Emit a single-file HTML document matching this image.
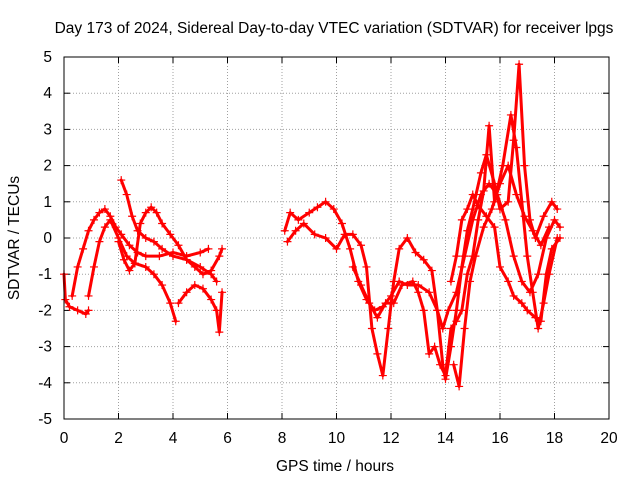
<!DOCTYPE html>
<html><head><meta charset="utf-8"><style>
body{margin:0;background:#fff;width:640px;height:480px;overflow:hidden}
svg text{font-family:"Liberation Sans",sans-serif;font-size:15.5px;fill:#000}
</style></head><body>
<svg id="chart" width="640" height="480" viewBox="0 0 640 480">
<text x="334" y="33" text-anchor="middle">Day 173 of 2024, Sidereal Day-to-day VTEC variation (SDTVAR) for receiver lpgs</text>
<g id="grid"></g>
<g id="axes"></g>
<g id="series"></g>
<rect x="64" y="57" width="545" height="362" fill="none" stroke="#000" stroke-width="1"/>
<text x="335" y="471" text-anchor="middle">GPS time / hours</text>
<text transform="translate(19,238) rotate(-90)" text-anchor="middle">SDTVAR / TECUs</text>
</svg>
<script>
const xTicks=[0,2,4,6,8,10,12,14,16,18,20];
const yTicks=[-5,-4,-3,-2,-1,0,1,2,3,4,5];
const trackA1=[[0,-1.0],[0.05,-1.7],[0.2,-1.9],[0.5,-2.0],[0.8,-2.1],[0.9,-2.0]];
const trackA2=[[0.3,-1.6],[0.5,-0.8],[0.7,-0.3],[0.9,0.2],[1.1,0.5],[1.3,0.7],[1.5,0.8],[1.7,0.6],[1.9,0.3],[2.1,0.1],[2.4,-0.2],[2.7,-0.4],[3.0,-0.5],[3.5,-0.5],[4.0,-0.4],[4.5,-0.5],[5.0,-0.4],[5.3,-0.3]];
const trackA3=[[0.9,-1.6],[1.1,-0.8],[1.3,-0.1],[1.5,0.3],[1.7,0.5],[2.0,0.0],[2.3,-0.5],[2.6,-0.7],[3.0,-0.8],[3.3,-1.0],[3.6,-1.3],[3.9,-1.8],[4.1,-2.3]];
const trackA4=[[2.1,1.6],[2.3,1.2],[2.5,0.6],[2.7,0.2],[3.0,0.0],[3.3,-0.1],[3.6,-0.3],[4.0,-0.5],[4.5,-0.6],[5.0,-0.8],[5.4,-1.0],[5.6,-1.2]];
const trackA5=[[2.0,-0.1],[2.2,-0.6],[2.4,-0.9],[2.6,-0.7],[2.8,0.4],[3.0,0.7],[3.2,0.85],[3.4,0.7],[3.6,0.4],[3.9,0.1],[4.2,-0.2],[4.5,-0.6],[4.8,-0.8],[5.1,-1.0],[5.4,-0.9],[5.7,-0.5],[5.8,-0.3]];
const trackA6=[[4.2,-1.8],[4.5,-1.5],[4.8,-1.3],[5.1,-1.4],[5.4,-1.7],[5.6,-2.0],[5.7,-2.6],[5.8,-1.5]];
const trackB1=[[8.1,0.2],[8.3,0.7],[8.6,0.5],[9.0,0.7],[9.3,0.85],[9.6,1.0],[9.9,0.8],[10.2,0.4],[10.5,-0.3],[10.8,-1.2],[11.1,-1.7],[11.4,-2.0],[11.7,-1.9],[12.0,-1.6],[12.3,-1.2],[12.6,-1.3],[13.0,-1.3],[13.4,-1.5],[13.7,-2.0],[13.9,-2.5],[14.1,-2.0],[14.4,-1.5],[14.7,-0.5],[15.0,0.5],[15.3,1.2],[15.6,1.5],[15.9,1.2],[16.2,0.5],[16.5,-0.5],[16.8,-1.2],[17.1,-1.5],[17.4,-1.0],[17.7,0.0],[18.0,0.5],[18.2,0.3]];
const trackB2=[[8.2,-0.1],[8.5,0.2],[8.8,0.4],[9.2,0.1],[9.6,0.0],[10.0,-0.3],[10.3,0.1],[10.6,0.1],[10.9,-0.2],[11.1,-0.8],[11.3,-2.5],[11.5,-3.2],[11.7,-3.8],[11.9,-2.5],[12.1,-1.2],[12.3,-0.3],[12.6,0.0],[12.9,-0.4],[13.2,-0.6],[13.5,-0.9],[13.7,-2.0],[13.9,-3.5],[14.0,-3.9],[14.2,-3.0],[14.4,-2.0],[14.6,-0.8],[14.8,0.2],[15.0,0.8],[15.3,1.8],[15.5,2.3],[15.8,1.5],[16.0,0.8],[16.3,1.0],[16.5,2.7],[16.7,4.8],[16.9,2.0],[17.1,0.5],[17.3,0.0],[17.6,0.6],[17.9,1.0],[18.1,0.8]];
const trackB3=[[10.6,-0.8],[10.9,-1.3],[11.2,-1.8],[11.5,-2.2],[11.8,-1.8],[12.1,-1.8],[12.4,-1.3],[12.8,-1.2],[13.0,-1.5],[13.2,-2.0],[13.4,-3.2],[13.6,-3.0],[13.8,-3.5],[14.0,-3.8],[14.2,-2.5],[14.4,-2.3],[14.6,-2.0],[14.8,-1.0],[15.0,-0.5],[15.2,0.5],[15.4,1.3],[15.6,3.1],[15.8,1.0],[16.1,2.0],[16.4,3.4],[16.6,2.5],[16.8,1.0],[17.0,-0.5],[17.2,-1.5],[17.4,-2.5],[17.6,-1.8],[17.8,-1.0],[18.1,0.0]];
const trackB4=[[14.2,-1.2],[14.4,-0.5],[14.6,0.5],[14.8,0.8],[15.0,1.2],[15.2,0.9],[15.5,0.6],[15.8,0.3],[16.0,-0.8],[16.3,-1.2],[16.5,-1.6],[16.8,-1.8],[17.0,-2.0],[17.3,-2.2],[17.5,-2.3],[17.7,-1.0],[17.9,-0.3],[18.2,0.0]];
const trackB5=[[14.3,-3.5],[14.5,-4.1],[14.7,-2.5],[14.9,-1.2],[15.1,-0.5],[15.4,0.3],[15.7,0.8],[16.0,1.5],[16.3,2.0],[16.6,1.2],[16.9,0.6],[17.2,0.2],[17.5,-0.2],[17.8,0.3]];
const tracks=[trackA1,trackA2,trackA3,trackA4,trackA5,trackA6,trackB1,trackB2,trackB3,trackB4,trackB5];

const NS="http://www.w3.org/2000/svg";
const L=64,R=609,T=57,B=419;
const xs=v=>L+(v-0)/(20-0)*(R-L);
const ys=v=>B-(v+5)/10*(B-T);
function mk(tag,attrs,parent){const e=document.createElementNS(NS,tag);for(const k in attrs)e.setAttribute(k,attrs[k]);parent.appendChild(e);return e;}
const grid=document.getElementById('grid'),axes=document.getElementById('axes'),ser=document.getElementById('series');
xTicks.forEach(t=>{
  const x=xs(t);
  if(t>0&&t<20){const g=mk('line',{x1:x,x2:x,y1:T,y2:B,stroke:'#a0a0a0','stroke-dasharray':'1,2'},grid);
  
  }
  mk('line',{x1:x,x2:x,y1:B,y2:B-6,stroke:'#000'},axes);
  mk('line',{x1:x,x2:x,y1:T,y2:T+6,stroke:'#000'},axes);
  const tx=mk('text',{x:x,y:443,'text-anchor':'middle'},axes);tx.textContent=t;
  
  
});
yTicks.forEach(t=>{
  const y=ys(t);
  if(t>-5&&t<5){const g=mk('line',{x1:L,x2:R,y1:y,y2:y,stroke:'#a0a0a0','stroke-dasharray':'1,2'},grid);
  
  }
  mk('line',{x1:L,x2:L+6,y1:y,y2:y,stroke:'#000'},axes);
  mk('line',{x1:R,x2:R-6,y1:y,y2:y,stroke:'#000'},axes);
  const tx=mk('text',{x:52,y:y+5,'text-anchor':'end'},axes);tx.textContent=t;
  
  
});
tracks.forEach((tr,i)=>{
  const pts=tr.map(p=>xs(p[0])+','+ys(p[1])).join(' ');
  const pl=mk('polyline',{points:pts,fill:'none',stroke:'#f00','stroke-width':3,'stroke-linejoin':'round','stroke-linecap':'round'},ser);
  
  
  tr.forEach(p=>{
    const x=xs(p[0]),y=ys(p[1]);
    const m=mk('path',{d:`M${x-4},${y}H${x+4}M${x},${y-4}V${y+4}`,stroke:'#f00','stroke-width':1.2},ser);
    
    
  });
});
</script>
</body></html>
